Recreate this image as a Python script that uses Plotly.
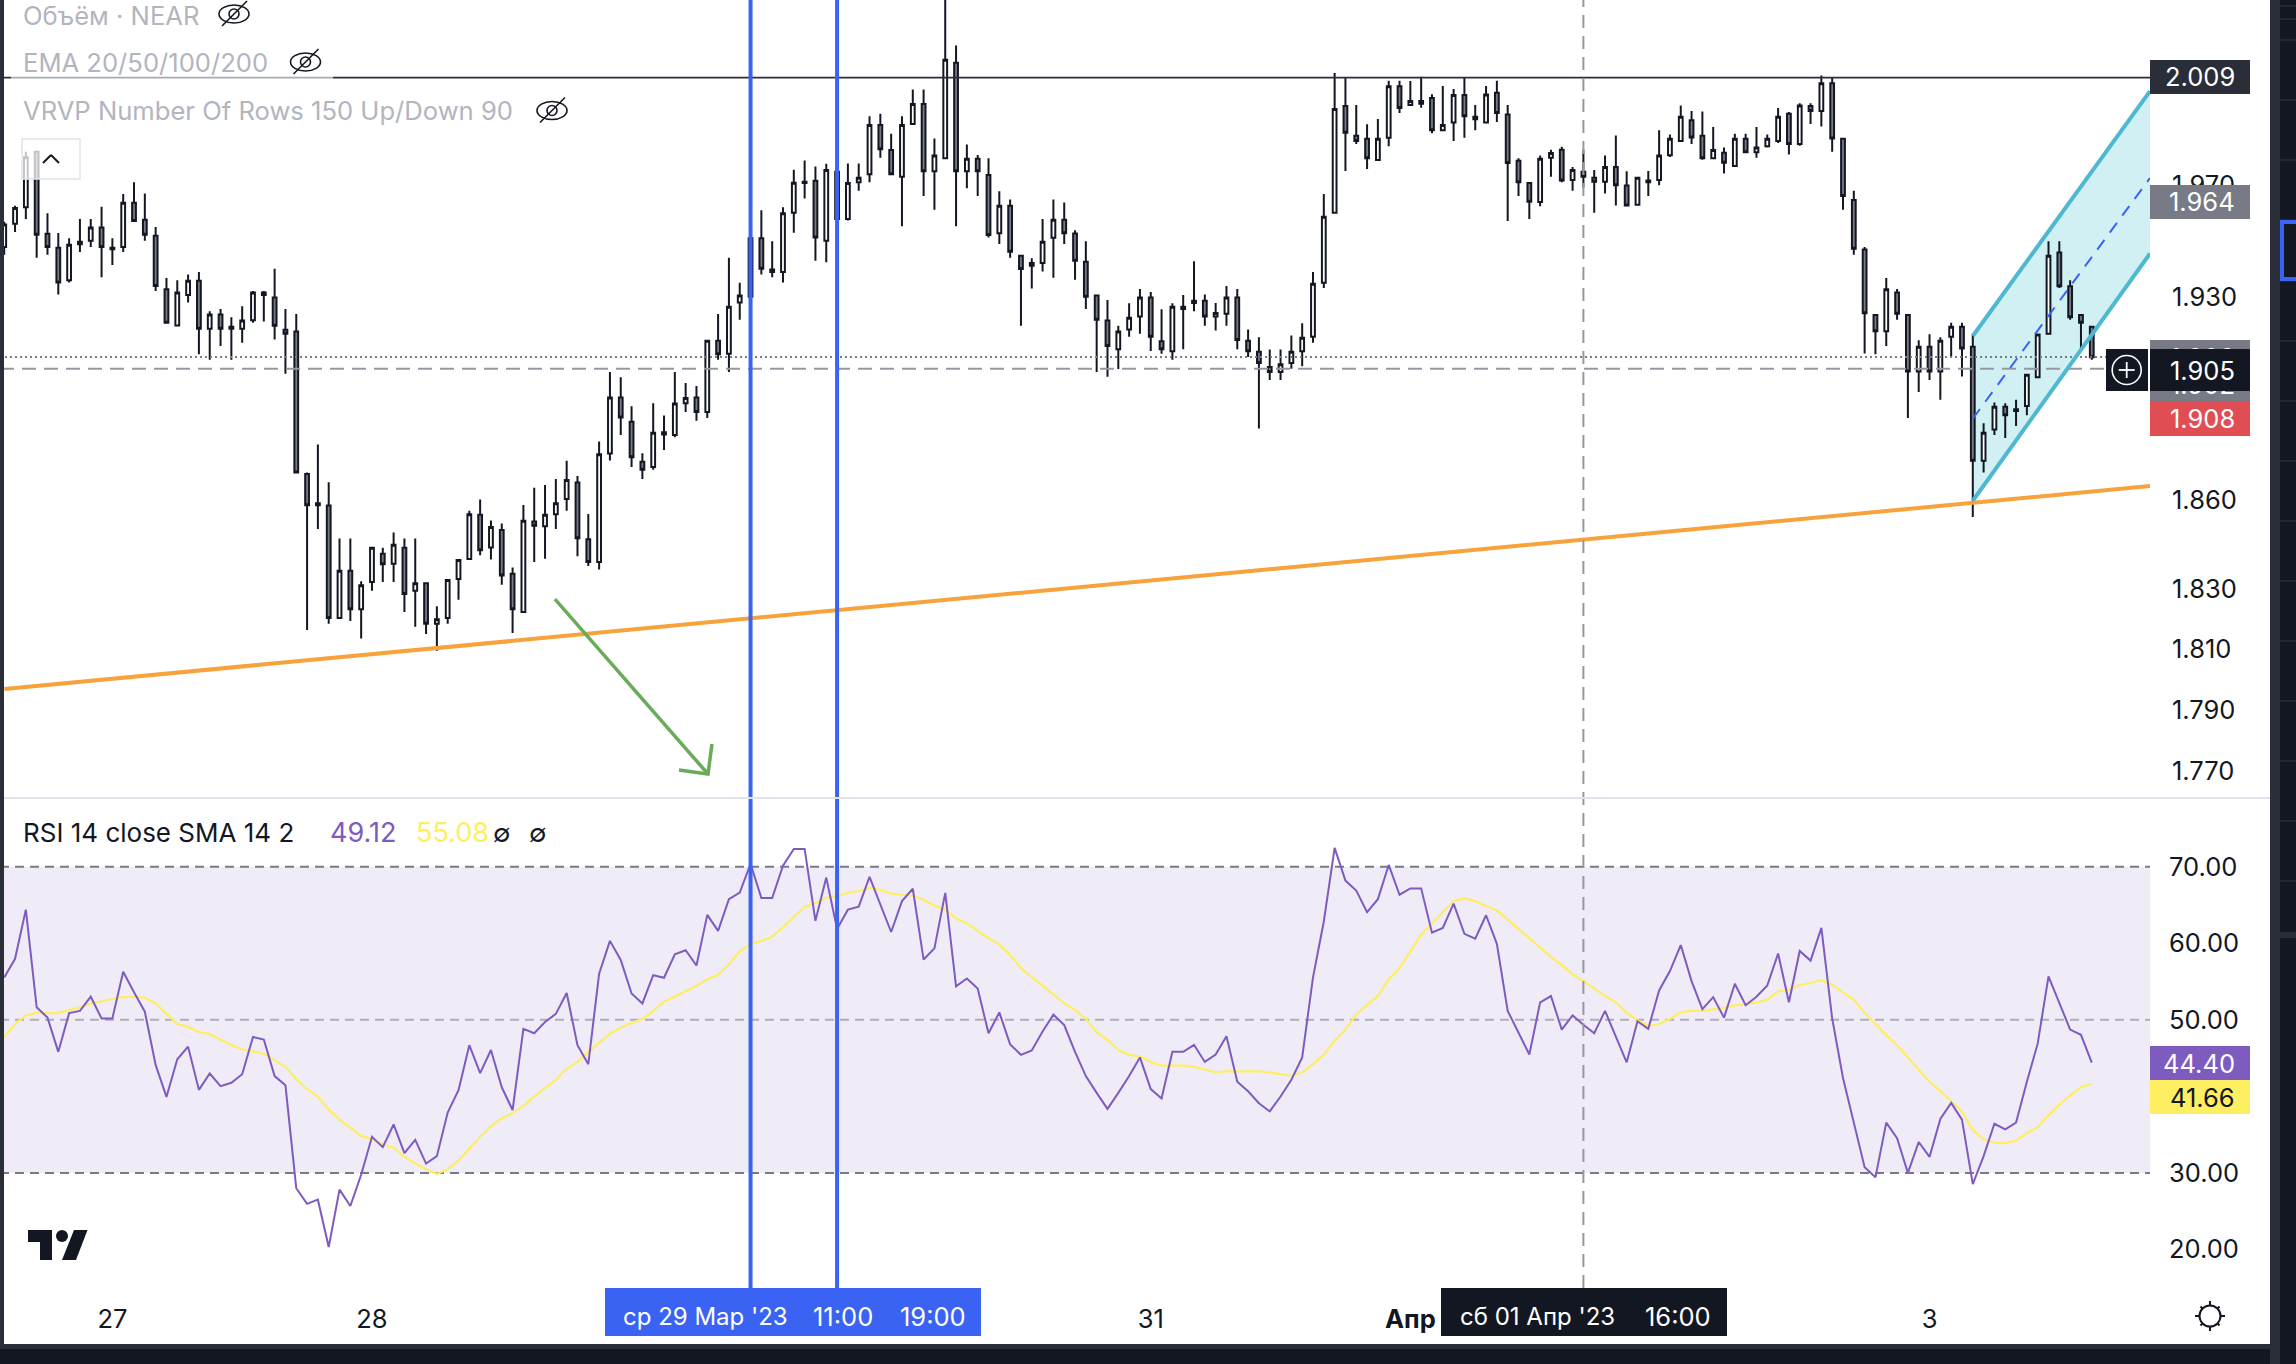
import math
import pandas as pd
import plotly.graph_objects as go

W, H = 2296, 1364
PLOT_RIGHT = 2150
PANE_SPLIT = 798
RSI_BOTTOM = 1288

# hourly NEAR candles, first bar is 26 Mar 14:00
open_ = [1.9478,1.9561,1.9620,1.9820,1.9525,1.9475,1.9360,1.9497,1.9500,1.9547,
    1.9475,1.9478,1.9636,1.9575,1.9518,1.9328,1.9201,1.9308,1.9358,1.9189,
    1.9239,1.9196,1.9189,1.9219,1.9317,1.9299,1.9186,1.9180,1.8687,1.8588,
    1.8580,1.8202,1.8360,1.8231,1.8322,1.8417,1.8383,1.8437,1.8293,1.8318,
    1.8183,1.8202,1.8332,1.8399,1.8549,1.8438,1.8497,1.8350,1.8222,1.8526,
    1.8510,1.8550,1.8602,1.8658,1.8466,1.8389,1.8757,1.8950,1.8866,1.8729,
    1.8711,1.8830,1.8821,1.8930,1.8950,1.8900,1.9147,1.9102,1.9282,1.9302,
    1.9509,1.9398,1.9389,1.9600,1.9711,1.9715,1.9500,1.9747,1.9578,1.9710,
    1.9738,1.9917,1.9826,1.9729,1.9920,1.9993,1.9749,1.9796,2.0144,1.9749,
    1.9794,1.9736,1.9527,1.9625,1.9447,1.9421,1.9421,1.9511,1.9575,1.9526,
    1.9426,1.9306,1.9218,1.9118,1.9187,1.9232,1.9299,1.9146,1.9111,1.9267,
    1.9288,1.9288,1.9232,1.9242,1.9299,1.9147,1.9109,1.9056,1.9038,1.9070,
    1.9111,1.9161,1.9351,1.9600,1.9986,1.9878,1.9867,1.9790,1.9870,2.0058,
    1.9990,2.0004,2.0015,1.9898,1.9926,2.0026,1.9947,1.9926,2.0034,1.9955,
    1.9787,1.9707,1.9639,1.9798,1.9827,1.9718,1.9747,1.9726,1.9711,1.9765,
    1.9698,1.9629,1.9716,1.9718,1.9807,1.9859,1.9934,1.9878,1.9796,1.9816,
    1.9768,1.9867,1.9818,1.9840,1.9859,1.9958,1.9848,1.9986,1.9968,2.0069,
    1.9867,1.9646,1.9469,1.9238,1.9181,1.9317,1.9238,1.9040,1.9126,1.9040,
    1.9161,1.9196,1.9126,1.8732,1.8840,1.8918,1.8909,1.8921,1.9020,1.9172,
    1.9458,1.9339,1.9238,1.9196]
high = [1.9568,1.9625,1.9820,1.9820,1.9598,1.9528,1.9509,1.9578,1.9578,1.9622,
    1.9509,1.9667,1.9710,1.9669,1.9549,1.9368,1.9360,1.9380,1.9389,1.9251,
    1.9259,1.9230,1.9268,1.9322,1.9322,1.9401,1.9259,1.9241,1.8692,1.8788,
    1.8659,1.8468,1.8468,1.8325,1.8437,1.8437,1.8489,1.8468,1.8468,1.8318,
    1.8241,1.8329,1.8396,1.8562,1.8600,1.8529,1.8519,1.8371,1.8582,1.8640,
    1.8650,1.8670,1.8732,1.8680,1.8551,1.8798,1.9038,1.9020,1.8920,1.8758,
    1.8930,1.8888,1.9038,1.9000,1.8990,1.9147,1.9241,1.9440,1.9351,1.9539,
    1.9609,1.9498,1.9620,1.9755,1.9788,1.9766,1.9776,1.9766,1.9777,1.9777,
    1.9949,1.9958,1.9885,1.9949,2.0046,2.0046,1.9868,2.0420,2.0208,1.9846,
    1.9808,1.9796,1.9677,1.9648,1.9447,1.9438,1.9578,1.9648,1.9637,1.9538,
    1.9498,1.9310,1.9290,1.9200,1.9279,1.9329,1.9319,1.9258,1.9279,1.9308,
    1.9427,1.9310,1.9280,1.9340,1.9329,1.9187,1.9160,1.9117,1.9117,1.9166,
    1.9209,1.9389,1.9667,2.0107,2.0091,1.9990,1.9919,1.9939,2.0078,2.0078,
    2.0077,2.0093,2.0029,2.0059,2.0048,2.0091,1.9990,2.0059,2.0078,1.9990,
    1.9796,1.9710,1.9806,1.9827,1.9838,1.9765,1.9827,1.9754,1.9806,1.9879,
    1.9749,1.9729,1.9750,1.9898,1.9882,1.9988,1.9968,1.9966,1.9909,1.9835,
    1.9885,1.9885,1.9909,1.9882,1.9979,1.9964,1.9996,1.9996,2.0098,2.0088,
    1.9867,1.9679,1.9478,1.9241,1.9368,1.9329,1.9241,1.9149,1.9170,1.9160,
    1.9210,1.9210,1.9172,1.8861,1.8933,1.8930,1.8942,1.9032,1.9169,1.9498,
    1.9498,1.9360,1.9241,1.9196]
low = [1.9450,1.9531,1.9578,1.9440,1.9450,1.9310,1.9352,1.9460,1.9478,1.9371,
    1.9414,1.9460,1.9571,1.9500,1.9322,1.9207,1.9198,1.9282,1.9100,1.9081,
    1.9129,1.9081,1.9140,1.9210,1.9215,1.9152,1.9032,1.8692,1.8162,1.8500,
    1.8183,1.8202,1.8192,1.8134,1.8293,1.8322,1.8322,1.8222,1.8173,1.8149,
    1.8094,1.8183,1.8263,1.8399,1.8412,1.8398,1.8313,1.8152,1.8222,1.8389,
    1.8400,1.8500,1.8562,1.8409,1.8376,1.8364,1.8733,1.8821,1.8711,1.8670,
    1.8702,1.8769,1.8813,1.8900,1.8870,1.8879,1.9081,1.9038,1.9221,1.9271,
    1.9380,1.9371,1.9352,1.9529,1.9651,1.9429,1.9424,1.9561,1.9572,1.9679,
    1.9710,1.9798,1.9736,1.9552,1.9917,1.9660,1.9611,1.9796,1.9552,1.9688,
    1.9660,1.9512,1.9489,1.9440,1.9200,1.9331,1.9391,1.9369,1.9489,1.9362,
    1.9259,1.9038,1.9022,1.9049,1.9161,1.9172,1.9112,1.9102,1.9081,1.9118,
    1.9251,1.9200,1.9183,1.9200,1.9118,1.9091,1.8843,1.9011,1.9011,1.9050,
    1.9058,1.9140,1.9333,1.9600,1.9750,1.9848,1.9757,1.9790,1.9840,1.9960,
    1.9990,1.9980,1.9887,1.9895,1.9859,1.9870,1.9898,1.9926,1.9928,1.9571,
    1.9660,1.9578,1.9623,1.9729,1.9710,1.9679,1.9691,1.9600,1.9669,1.9626,
    1.9623,1.9626,1.9660,1.9699,1.9801,1.9857,1.9848,1.9791,1.9794,1.9741,
    1.9766,1.9816,1.9798,1.9835,1.9851,1.9810,1.9841,1.9920,1.9911,1.9820,
    1.9611,1.9450,1.9103,1.9100,1.9129,1.9221,1.8879,1.8969,1.9011,1.8942,
    1.9091,1.9023,1.8541,1.8692,1.8821,1.8810,1.8852,1.8889,1.9020,1.9169,
    1.9333,1.9221,1.9118,1.9081]
close = [1.9558,1.9617,1.9800,1.9522,1.9478,1.9352,1.9486,1.9488,1.9547,1.9478,
    1.9470,1.9636,1.9571,1.9522,1.9340,1.9210,1.9317,1.9358,1.9189,1.9239,
    1.9189,1.9189,1.9218,1.9317,1.9308,1.9200,1.9172,1.8692,1.8581,1.8581,
    1.8202,1.8360,1.8231,1.8311,1.8437,1.8382,1.8447,1.8282,1.8318,1.8183,
    1.8198,1.8329,1.8396,1.8550,1.8429,1.8507,1.8344,1.8231,1.8528,1.8511,
    1.8549,1.8588,1.8667,1.8469,1.8389,1.8755,1.8950,1.8881,1.8744,1.8702,
    1.8828,1.8822,1.8929,1.8948,1.8900,1.9147,1.9100,1.9267,1.9306,1.9509,
    1.9401,1.9389,1.9598,1.9708,1.9707,1.9512,1.9754,1.9578,1.9707,1.9726,
    1.9917,1.9829,1.9738,1.9917,1.9993,1.9749,1.9806,2.0155,1.9749,1.9794,
    1.9749,1.9521,1.9625,1.9461,1.9400,1.9411,1.9497,1.9575,1.9527,1.9429,
    1.9302,1.9221,1.9129,1.9180,1.9228,1.9299,1.9161,1.9118,1.9267,1.9259,
    1.9280,1.9232,1.9245,1.9299,1.9150,1.9111,1.9070,1.9038,1.9065,1.9109,
    1.9158,1.9348,1.9586,1.9975,1.9889,1.9859,1.9796,1.9867,2.0058,1.9979,
    2.0004,1.9994,1.9898,1.9917,2.0026,1.9949,1.9938,2.0028,1.9960,1.9779,
    1.9710,1.9640,1.9794,1.9815,1.9716,1.9754,1.9729,1.9711,1.9765,1.9699,
    1.9626,1.9726,1.9710,1.9806,1.9867,1.9947,1.9871,1.9796,1.9826,1.9780,
    1.9867,1.9818,1.9835,1.9867,1.9947,1.9848,1.9988,1.9968,2.0069,1.9868,
    1.9660,1.9472,1.9244,1.9181,1.9328,1.9242,1.9040,1.9126,1.9040,1.9147,
    1.9196,1.9120,1.8732,1.8828,1.8918,1.8889,1.8903,1.9029,1.9169,1.9447,
    1.9339,1.9230,1.9210,1.9090]

rsi = [55.55,57.98,64.40,51.65,50.29,45.82,50.88,51.17,53.02,50.19,
    50.19,56.28,53.60,51.07,44.11,39.93,44.84,46.50,40.85,42.99,
    41.34,41.78,42.90,47.76,47.42,42.65,41.44,28.00,25.96,26.50,
    20.32,27.81,25.67,29.76,34.72,33.36,36.33,32.58,34.33,31.22,
    32.19,37.88,40.80,46.69,43.04,46.06,41.19,38.22,48.83,48.25,
    49.71,50.78,53.50,46.69,44.21,56.03,60.32,57.83,53.45,52.14,
    55.84,55.50,58.56,59.10,57.10,63.72,61.63,65.77,66.64,70.39,
    65.91,65.91,70.15,72.34,72.34,62.94,68.59,61.87,64.40,64.79,
    68.69,65.04,61.48,65.52,67.13,57.88,59.34,66.59,54.38,55.40,
    54.09,48.25,50.97,46.79,45.43,46.01,48.49,50.68,49.32,45.82,
    42.65,40.46,38.37,40.46,42.65,45.09,40.95,39.73,45.82,45.82,
    46.74,44.50,45.47,47.86,41.92,40.66,39.10,38.03,39.98,42.17,
    45.09,55.55,62.85,72.48,68.20,66.89,64.06,65.77,70.24,66.35,
    67.18,67.18,61.39,62.02,65.18,61.24,60.61,63.67,59.93,51.17,
    48.25,45.47,52.29,53.11,48.73,50.58,49.37,48.25,51.17,47.76,
    44.45,49.81,48.83,53.84,56.37,59.78,55.06,51.41,52.97,50.29,
    54.72,51.90,53.02,54.48,58.66,52.29,59.00,57.74,62.02,50.19,
    42.41,36.57,30.73,29.42,36.57,34.53,30.00,34.04,32.09,37.06,
    39.15,36.96,28.54,32.19,36.42,35.69,36.57,41.92,46.89,55.69,
    52.14,48.73,48.05,44.40]
rsi_sma = [47.76,49.46,50.58,50.92,50.92,50.88,51.27,51.65,52.14,52.48,
    52.73,52.97,53.02,52.87,52.14,50.78,49.46,49.08,48.39,48.15,
    47.42,46.69,46.16,45.86,45.57,44.74,43.87,42.26,40.95,39.98,
    38.27,36.96,35.84,34.87,34.38,33.75,33.26,32.09,31.22,30.49,
    29.85,30.49,31.61,33.16,34.72,36.08,37.15,37.79,38.76,39.98,
    41.05,42.17,43.63,44.50,45.82,47.03,48.15,48.98,49.61,50.10,
    51.17,52.38,53.11,53.75,54.43,55.30,55.89,57.25,58.95,59.93,
    60.32,60.90,62.12,63.43,64.79,65.28,65.96,66.16,66.64,66.84,
    67.23,66.98,66.50,66.35,66.25,65.67,64.94,64.40,63.24,62.60,
    61.63,60.66,59.83,58.47,56.76,55.55,54.48,53.36,52.14,51.31,
    50.10,48.35,47.37,46.06,45.43,45.23,44.50,44.01,44.01,44.01,
    43.87,43.53,43.14,43.28,43.24,43.28,43.28,43.14,42.90,42.70,
    43.14,44.21,45.43,47.27,48.73,50.68,51.99,53.11,55.30,56.76,
    58.95,61.14,62.60,64.06,65.52,65.86,65.52,64.89,64.31,63.09,
    61.87,60.66,59.44,58.22,57.15,55.94,55.06,54.09,53.11,52.29,
    50.92,49.95,49.22,49.46,50.10,51.02,51.17,51.17,51.41,51.56,
    51.90,52.04,52.29,52.63,53.70,53.94,54.57,54.82,55.21,54.57,
    53.60,52.63,50.92,49.46,48.00,46.69,45.09,43.48,41.92,40.71,
    39.39,38.03,35.60,34.38,33.94,33.89,34.23,35.21,35.94,37.54,
    38.91,40.12,41.19,41.66]

# axis ticks
price_ticks = [1.77, 1.79, 1.81, 1.83, 1.86, 1.93, 1.97]
price_tick_labels = ["1.770", "1.790", "1.810", "1.830", "1.860", "1.930", "1.970"]
rsi_ticks = [20, 30, 50, 60, 70]
rsi_tick_labels = ["20.00", "30.00", "50.00", "60.00", "70.00"]
time_ticks = ["2023-03-27", "2023-03-28", "2023-03-31", "2023-04-01", "2023-04-03"]
time_tick_labels = ["27", "28", "31", "<b>Апр</b>", "3"]

# drawings on the chart
x_left, x_right = "2023-03-26 13:36:36", "2023-04-03 20:23:00"
level_price = 2.009
last_price = 1.9091
cross_price = 1.905
cross_time = "2023-04-01 16:00"
blue_times = ["2023-03-29 11:00", "2023-03-29 19:00"]
trend_x = ["2023-03-26 14:01", x_right]
trend_y = [1.7968, 1.8646]
channel_x = ["2023-04-03 04:00", x_right]
channel_upper = [1.9164, 2.0040]
channel_lower = [1.8596, 1.9455]
channel_mid = [1.8877, 1.9725]
arrow_x = ["2023-03-28 16:55", "2023-03-29 07:04"]
arrow_y = [1.8265, 1.7691]
arrow_head_x = ["2023-03-29 04:23", "2023-03-29 07:04", "2023-03-29 07:26"]
arrow_head_y = [1.7704, 1.7691, 1.7788]
rsi_levels = [70, 50, 30]

times = pd.date_range("2023-03-26 14:00", periods=len(open_), freq="h")
FONT = "Inter"
INK = "#131722"
LABEL_SIZE = 25.5
LEGEND_SIZE = 25.6


def fx(px):
    return px / W


def fy(py):
    return 1 - py / H


def line_trace(x, y, color, width, dash="solid", yaxis="y"):
    return go.Scatter(x=x, y=y, mode="lines", yaxis=yaxis, hoverinfo="skip", showlegend=False,
                      line=dict(color=color, width=width, dash=dash))


fig = go.Figure()
fig.add_trace(go.Candlestick(
    x=times, open=open_, high=high, low=low, close=close, hoverinfo="skip", showlegend=False,
    increasing=dict(line=dict(color=INK, width=2), fillcolor="#ffffff"),
    decreasing=dict(line=dict(color=INK, width=2), fillcolor="#787b86"),
))
fig.add_trace(line_trace([x_left, x_right], [level_price] * 2, "#2a2e39", 1.8))
fig.add_trace(line_trace([x_left, x_right], [last_price] * 2, "#787b86", 2, "2px,3px"))
fig.add_trace(line_trace([x_left, x_right], [cross_price] * 2, "#9598a1", 2, "14px,8px"))
fig.add_trace(line_trace(trend_x, trend_y, "#f7a23b", 4))
fig.add_trace(line_trace(arrow_x, arrow_y, "#6aab5a", 3.5))
fig.add_trace(line_trace(arrow_head_x, arrow_head_y, "#6aab5a", 3.5))
fig.add_trace(line_trace(channel_x, channel_upper, "#4db8cf", 4))
fig.add_trace(line_trace(channel_x, channel_lower, "#4db8cf", 4))
fig.add_trace(line_trace(channel_x, channel_mid, "#3a63f3", 2, "12px,9px"))

fig.add_trace(line_trace(times, rsi_sma, "#fdee62", 2.2, yaxis="y2"))
fig.add_trace(line_trace(times, rsi, "#7e5bbf", 2, yaxis="y2"))

shapes = []
# channel fill has to sit under the candles
d0 = channel_x[0].replace(" ", "_") + ":00"
d1 = x_right.replace(" ", "_")
shapes.append(dict(type="path", layer="below", xref="x", yref="y", line=dict(width=0), fillcolor="#d1f0f4",
                   path=f"M {d0},{channel_lower[0]} L {d1},{channel_lower[1]} L {d1},{channel_upper[1]} L {d0},{channel_upper[0]} Z"))
# rsi band and levels
shapes.append(dict(type="rect", layer="below", xref="x domain", yref="y2", x0=0, x1=1, y0=30, y1=70,
                   fillcolor="#f0ecf7", line=dict(width=0)))
for level in rsi_levels:
    shapes.append(dict(type="line", layer="below", xref="x domain", yref="y2", x0=0, x1=1, y0=level, y1=level,
                       line=dict(color="#b0adb9" if level == 50 else "#787b86", width=2, dash="9px,6px")))


def rect(x0, y0, x1, y1, color, line=None, opacity=1):
    shapes.append(dict(type="rect", xref="paper", yref="paper", x0=fx(x0), x1=fx(x1), y0=fy(y0), y1=fy(y1),
                       fillcolor=color, opacity=opacity, line=line or dict(width=0)))


def seg(x0, y0, x1, y1, color, width):
    shapes.append(dict(type="line", xref="paper", yref="paper", x0=fx(x0), x1=fx(x1), y0=fy(y0), y1=fy(y1),
                       line=dict(color=color, width=width)))


def ellipse(cx, cy, rx, ry, color, width, fill=None):
    shapes.append(dict(type="circle", xref="paper", yref="paper", x0=fx(cx - rx), x1=fx(cx + rx),
                       y0=fy(cy - ry), y1=fy(cy + ry), fillcolor=fill or "rgba(0,0,0,0)",
                       line=dict(color=color, width=width)))


def poly(points, color):
    d = " ".join(("M" if i == 0 else "L") + f" {fx(x):.5f},{fy(y):.5f}" for i, (x, y) in enumerate(points)) + " Z"
    shapes.append(dict(type="path", xref="paper", yref="paper", path=d, fillcolor=color, line=dict(width=0)))


# vertical lines run through both panes
for t in blue_times:
    shapes.append(dict(type="line", xref="x", yref="paper", x0=t, x1=t, y0=fy(RSI_BOTTOM), y1=1,
                       line=dict(color="#3a63f3", width=4)))
shapes.append(dict(type="line", xref="x", yref="paper", x0=cross_time, x1=cross_time, y0=fy(RSI_BOTTOM), y1=1,
                   line=dict(color="#9598a1", width=2, dash="13px,8px")))

seg(0, PANE_SPLIT, 2270, PANE_SPLIT, "#e0e3eb", 2)
# legend sits on a see-through plate
rect(11, 66, 333, 86, "#ffffff", opacity=0.6)

for cx, cy in [(234, 14), (305.5, 62), (552, 110.5)]:
    ellipse(cx, cy, 15, 9, INK, 1.6)
    ellipse(cx, cy, 5, 5, INK, 1.6)
    seg(cx - 12, cy + 12, cx + 13, cy - 13, INK, 1.6)

# collapse button
rect(22, 139, 80, 179, "rgba(255,255,255,0.75)", line=dict(color="#e0e3eb", width=1.5))
seg(43, 163, 51, 155, INK, 2)
seg(51, 155, 59, 163, INK, 2)

# tradingview logo
poly([(28, 1230), (52, 1230), (52, 1260), (40, 1260), (40, 1242), (28, 1242)], INK)
ellipse(62, 1236, 6, 6, INK, 0, INK)
poly([(74, 1230), (87.5, 1230), (76, 1260), (62, 1260)], INK)

# gear icon
ellipse(2210, 1316, 10.5, 10.5, INK, 2)
for k in range(8):
    a = k * math.pi / 4
    r1 = 10.5
    r2 = 15 if k % 2 == 0 else 13.5
    seg(2210 + r1 * math.cos(a), 1316 + r1 * math.sin(a), 2210 + r2 * math.cos(a), 1316 + r2 * math.sin(a), INK, 2)

# crosshair "+" button next to the price label
rect(2106, 349, 2148, 391, INK)
ellipse(2126.7, 370, 14.5, 14.5, "#ffffff", 1.6)
seg(2118.7, 370, 2134.7, 370, "#ffffff", 1.8)
seg(2126.7, 362, 2126.7, 378, "#ffffff", 1.8)

# window chrome around the chart
rect(0, 0, 4, 1345, "#2a2e39")
rect(0, 1344, 2270, 1349, "#2a2e39")
rect(0, 1349, 2296, 1364, INK)
rect(2270, 0, 2280, 1364, "#2a2e39")
rect(2280, 0, 2296, 1364, INK)
for y in [6, 19, 40, 100, 160, 220, 281, 341, 401, 461, 521, 581, 641, 701, 761, 821, 881]:
    seg(2280, y, 2296, y, "#2a2e39", 1.5)
rect(2280, 932, 2296, 938, "#2a2e39")
rect(2282, 222, 2298, 279, "rgba(0,0,0,0)", line=dict(color="#3a63f3", width=4))

annotations = []


def text(s, x, y, color=INK, size=LABEL_SIZE, anchor="left"):
    annotations.append(dict(text=s, xref="paper", yref="paper", x=fx(x), y=fy(y), xanchor=anchor, yanchor="middle",
                            showarrow=False, font=dict(family=FONT, size=size, color=color)))


def plate(x0, y0, x1, y1, color):
    annotations.append(dict(text=" ", xref="paper", yref="paper", x=fx(x0), y=fy(y0), xanchor="left", yanchor="top",
                            width=x1 - x0, height=y1 - y0, bgcolor=color, borderpad=0, borderwidth=0,
                            showarrow=False, font=dict(size=8)))


text("Объём · NEAR", 20.5, 16, "#b2b5be", LEGEND_SIZE)
text("EMA 20/50/100/200", 20.5, 63, "#b2b5be", LEGEND_SIZE)
text("VRVP Number Of Rows 150 Up/Down 90", 20.5, 110, "#b2b5be", LEGEND_SIZE)
text("RSI 14 close SMA 14 2", 20.5, 832, INK, 26)
text("49.12", 328, 832, "#7e5bbf", 27)
text("55.08", 414, 832, "#fdee62", 27)
text("∅", 491, 832)
text("∅", 527, 832)

# price scale labels
plate(2150, 60, 2250, 94, "#2a2e39")
text("2.009", 2237, 77, "#ffffff", anchor="right")
plate(2150, 185, 2250, 219, "#787b86")
text("1.964", 2237, 202, "#ffffff", anchor="right")
plate(2150, 340, 2250, 402, "#787b86")
text("1.909", 2237, 357, "#ffffff", anchor="right")
text("1.902", 2237, 385, "#ffffff", anchor="right")
plate(2150, 402, 2250, 436, "#e04e54")
text("1.908", 2237, 419, "#ffffff", anchor="right")
plate(2150, 349, 2250, 391, INK)
text("1.905", 2237, 370, "#ffffff", anchor="right")
plate(2150, 1046, 2250, 1080, "#7e5bbf")
text("44.40", 2237, 1063, "#ffffff", anchor="right")
plate(2150, 1080, 2250, 1114, "#fdee62")
text("41.66", 2237, 1097, INK, anchor="right")

# time scale labels
plate(605, 1288, 981, 1336, "#3a63f3")
text("ср 29 Мар '23", 621, 1316, "#ffffff", 24)
text("11:00", 811, 1316, "#ffffff")
text("19:00", 897.5, 1316, "#ffffff")
plate(1441, 1288, 1727, 1336, INK)
text("сб 01 Апр '23", 1458, 1316, "#ffffff", 24)
text("16:00", 1643, 1316, "#ffffff")

tickfont = dict(family=FONT, size=LABEL_SIZE, color=INK)
fig.update_layout(
    width=W, height=H, margin=dict(l=0, r=0, t=0, b=0), autosize=False,
    paper_bgcolor="#ffffff", plot_bgcolor="#ffffff", showlegend=False, hovermode=False,
    boxgap=0.5, dragmode=False,
    shapes=shapes, annotations=annotations,
    xaxis=dict(type="date", domain=[0, PLOT_RIGHT / W], anchor="y2", range=[x_left, x_right],
               rangeslider=dict(visible=False), showgrid=False, zeroline=False, showline=False, ticks="",
               tickmode="array", tickvals=time_ticks, ticktext=time_tick_labels, tickangle=0,
               tickfont=tickfont, ticklabelstandoff=13),
    yaxis=dict(type="log", domain=[fy(PANE_SPLIT), 1], range=[0.24585, 0.30913], side="right", anchor="x",
               showgrid=False, zeroline=False, showline=False, ticks="",
               tickmode="array", tickvals=price_ticks, ticktext=price_tick_labels,
               tickfont=tickfont, ticklabelstandoff=21),
    yaxis2=dict(domain=[fy(RSI_BOTTOM), fy(PANE_SPLIT)], range=[14.96, 78.99], side="right", anchor="x",
                showgrid=False, zeroline=False, showline=False, ticks="",
                tickmode="array", tickvals=rsi_ticks, ticktext=rsi_tick_labels,
                tickfont=tickfont, ticklabelstandoff=18),
)

fig.write_html("out.html", config=dict(displayModeBar=False),
               post_script="document.body.style.margin='0';document.body.style.overflow='hidden';")
